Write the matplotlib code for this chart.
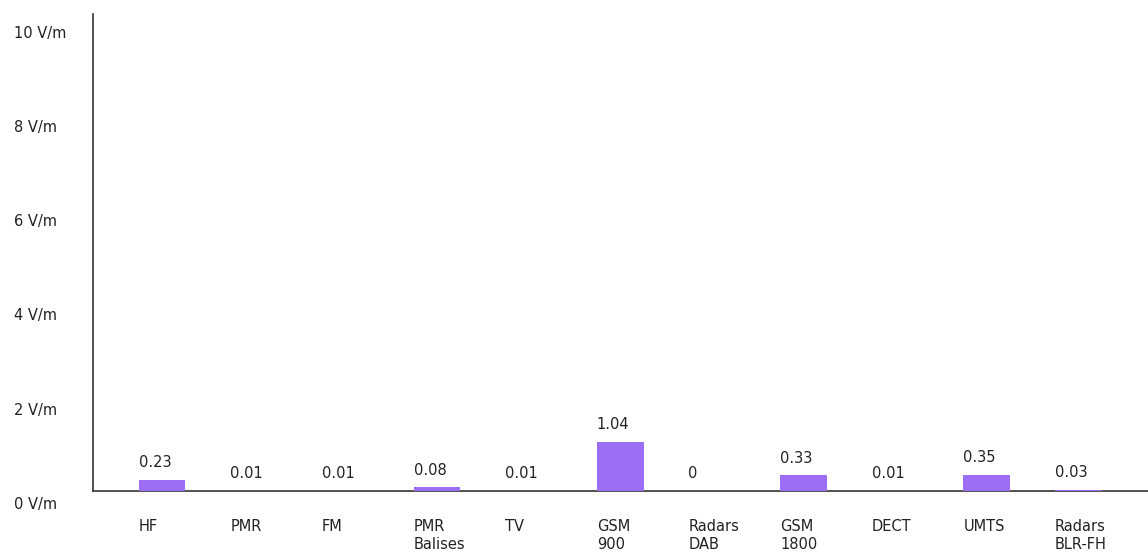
import matplotlib.pyplot as plt
import matplotlib.transforms as mtransforms
import numpy as np

plt.rcParams["font.family"] = ["DejaVu Sans"]

categories = ["HF", "PMR", "FM", "PMR\nBalises", "TV", "GSM\n900", "Radars\nDAB",
              "GSM\n1800", "DECT", "UMTS", "Radars\nBLR-FH"]
values = [0.23, 0.01, 0.01, 0.08, 0.01, 1.04, 0.0, 0.33, 0.01, 0.35, 0.03]
value_labels = ["0.23", "0.01", "0.01", "0.08", "0.01", "1.04", "0", "0.33", "0.01", "0.35", "0.03"]
y_ticks = [0, 2, 4, 6, 8, 10]
y_tick_labels = ["0 V/m", "2 V/m", "4 V/m", "6 V/m", "8 V/m", "10 V/m"]

bar_color = "#9b6ef3"
text_color = "#222222"
width = 0.51

fig = plt.figure(figsize=(11.48, 5.54), dpi=100)
ax = fig.add_axes([0.081, 0.1137, 0.919, 0.861])

xs = np.arange(len(categories))
ax.bar(xs, values, width=width, color=bar_color, zorder=1)

for x, v, lab in zip(xs, values, value_labels):
    ax.annotate(lab, (x - width / 2, v), xytext=(0, 7), textcoords="offset points",
                ha="left", va="bottom", fontsize=10.5, color=text_color)

ax.set_xlim(-0.753, 10.76)
ax.set_ylim(0, 10.12)

ax.set_xticks(xs - width / 2)
ax.set_xticklabels(categories, ha="left", fontsize=10.5, color=text_color, linespacing=1.25)
ax.set_yticks(y_ticks)
ax.set_yticklabels(y_tick_labels, ha="left", fontsize=10.5, color=text_color)
ax.tick_params(axis="both", length=0)
ax.tick_params(axis="y", pad=57)
ax.tick_params(axis="x", pad=20)

offset = mtransforms.ScaledTranslation(0, -12 / 100, fig.dpi_scale_trans)
for label in ax.get_yticklabels():
    label.set_transform(label.get_transform() + offset)

for side in ["top", "right"]:
    ax.spines[side].set_visible(False)
for side in ["left", "bottom"]:
    ax.spines[side].set_color("#333333")
    ax.spines[side].set_linewidth(1.2)
    ax.spines[side].set_zorder(0.5)

fig.savefig("out.png", dpi=100)
